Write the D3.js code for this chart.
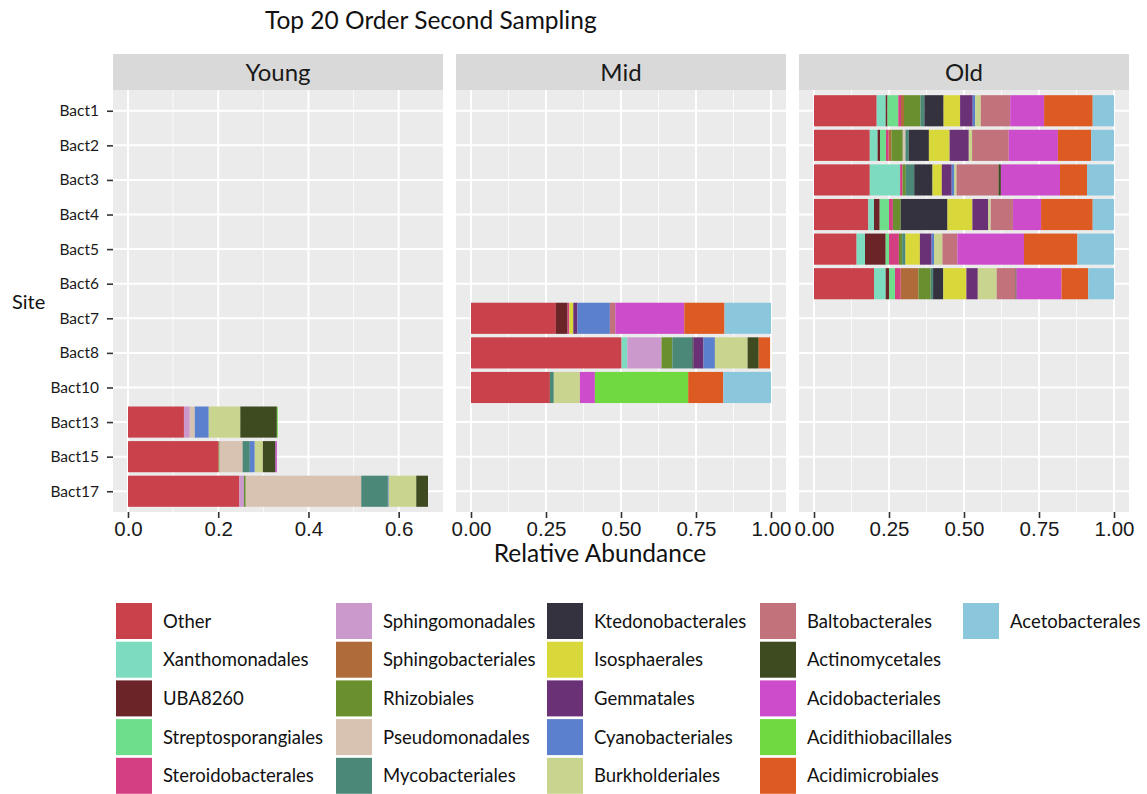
<!DOCTYPE html>
<html>
<head>
<meta charset="utf-8">
<script src="https://cdn.jsdelivr.net/npm/d3@7"></script>
<style>
  html, body { margin: 0; padding: 0; background: #ffffff; }
  svg { display: block; }
</style>
</head>
<body>
<svg id="chart" width="1147" height="794"></svg>
<script>
// ---- Data -----------------------------------------------------------------
const sites = ["Bact1", "Bact2", "Bact3", "Bact4", "Bact5", "Bact6",
               "Bact7", "Bact8", "Bact10", "Bact13", "Bact15", "Bact17"];

const ages = ["Young", "Mid", "Old"];
const youngSites = ["Bact13", "Bact15", "Bact17"];
const midSites = ["Bact7", "Bact8", "Bact10"];
const oldSites = ["Bact1", "Bact2", "Bact3", "Bact4", "Bact5", "Bact6"];

const orders = ["Other", "Xanthomonadales", "UBA8260", "Streptosporangiales",
  "Steroidobacterales", "Sphingomonadales", "Sphingobacteriales", "Rhizobiales",
  "Pseudomonadales", "Mycobacteriales", "Ktedonobacterales", "Isosphaerales",
  "Gemmatales", "Cyanobacteriales", "Burkholderiales", "Baltobacterales",
  "Actinomycetales", "Acidobacteriales", "Acidithiobacillales",
  "Acidimicrobiales", "Acetobacterales"];

const orderColors = ["#c9424b", "#7ddcc0", "#6b2427", "#6ede8a", "#d43f84",
  "#cc99cc", "#b06b3a", "#6a8f2e", "#d8c3b2", "#4b8878", "#33323e", "#d8d83a",
  "#6b3177", "#5b80cd", "#c9d58e", "#c1727a", "#3e4a20", "#cc4ccb", "#6fd93f",
  "#dd5a22", "#8ac7dc"];

// Relative abundance per site, in the same order as `orders`
const bact1  = [0.209, 0.030, 0.006, 0.036, 0.009, 0, 0.010, 0.055, 0, 0.013, 0.064, 0.055, 0.042, 0.008, 0.019, 0.098, 0, 0.113, 0, 0.162, 0.071];
const bact2  = [0.186, 0.026, 0.008, 0.020, 0.009, 0, 0.009, 0.038, 0.009, 0.011, 0.067, 0.069, 0.064, 0, 0.011, 0.122, 0, 0.164, 0, 0.111, 0.076];
const bact3  = [0.186, 0.101, 0, 0, 0.008, 0, 0, 0.011, 0, 0.028, 0.061, 0.031, 0.033, 0.009, 0.007, 0.140, 0.008, 0.197, 0, 0.090, 0.090];
const bact4  = [0.181, 0.019, 0.019, 0.031, 0.013, 0, 0, 0.026, 0, 0, 0.156, 0.083, 0.053, 0, 0.008, 0.074, 0, 0.094, 0, 0.172, 0.071];
const bact5  = [0.142, 0.028, 0.069, 0.011, 0.033, 0, 0, 0.011, 0, 0.011, 0, 0.048, 0.039, 0.008, 0.028, 0.050, 0, 0.222, 0, 0.178, 0.122];
const bact6  = [0.200, 0.039, 0.011, 0.020, 0.019, 0, 0.059, 0.041, 0, 0.008, 0.034, 0.077, 0.038, 0, 0.063, 0.063, 0.003, 0.150, 0, 0.089, 0.086];
const bact7  = [0.283, 0, 0.039, 0, 0.006, 0, 0, 0, 0, 0, 0, 0.013, 0.014, 0.108, 0, 0.018, 0, 0.230, 0, 0.134, 0.155];
const bact8  = [0.502, 0.019, 0, 0, 0, 0.114, 0, 0.036, 0, 0.067, 0.004, 0, 0.033, 0.038, 0.109, 0, 0.037, 0, 0, 0.038, 0];
const bact10 = [0.263, 0, 0, 0, 0, 0, 0, 0, 0, 0.013, 0, 0, 0, 0, 0.087, 0, 0, 0.050, 0.311, 0.117, 0.159];
const bact13 = [0.124, 0, 0, 0, 0, 0.013, 0, 0, 0.011, 0, 0, 0, 0, 0.031, 0.070, 0, 0.081, 0, 0.002, 0, 0];
const bact15 = [0.201, 0, 0, 0, 0, 0, 0, 0.002, 0.051, 0.016, 0, 0, 0, 0.011, 0.018, 0, 0.028, 0.003, 0, 0, 0];
const bact17 = [0.247, 0, 0, 0, 0, 0.010, 0, 0.004, 0.256, 0.059, 0, 0, 0, 0.002, 0.061, 0, 0.026, 0, 0, 0, 0];

const siteValues = [bact1, bact2, bact3, bact4, bact5, bact6,
                    bact7, bact8, bact10, bact13, bact15, bact17];

const youngTicks = [0, 0.2, 0.4, 0.6];
const fullTicks = [0, 0.25, 0.5, 0.75, 1];

// ---- Layout ---------------------------------------------------------------
const svg = d3.select("#chart");
const panelTop = 90, panelBottom = 512, stripTop = 54;
const panelLefts = [113, 456, 799];
const panelWidth = 330;
const panelSites = [youngSites, midSites, oldSites];
const panelTicks = [youngTicks, fullTicks, fullTicks];
const panelFormats = [d3.format(".1f"), d3.format(".2f"), d3.format(".2f")];
const sansFont = "Lato, 'Open Sans', sans-serif";

const rows = sites.map((s, i) => {
  const r = { site: s };
  orders.forEach((o, j) => { r[o] = siteValues[i][j]; });
  return r;
});
const series = d3.stack().keys(orders)(rows);
const colorScale = d3.scaleOrdinal(orders, orderColors);

const y = d3.scalePoint(sites, [panelTop, panelBottom]).padding(0.6);
const barH = y.step() * 0.9;

// title
svg.append("text")
  .attr("x", 265).attr("y", 29)
  .attr("font-family", sansFont)
  .attr("font-size", 24.5)
  .attr("fill", "#111")
  .text("Top 20 Order Second Sampling");

ages.forEach((age, p) => {
  const left = panelLefts[p];
  const inPanel = new Set(panelSites[p]);
  const maxTotal = d3.max(rows.filter(r => inPanel.has(r.site)),
                          r => d3.sum(orders, o => r[o]));
  const x = d3.scaleLinear()
    .domain([-0.05 * maxTotal, 1.05 * maxTotal])
    .range([left, left + panelWidth]);

  const g = svg.append("g");

  // strip
  g.append("rect")
    .attr("x", left).attr("y", stripTop)
    .attr("width", panelWidth).attr("height", panelTop - stripTop)
    .attr("fill", "#d9d9d9");
  g.append("text")
    .attr("x", left + panelWidth / 2).attr("y", 80.5)
    .attr("text-anchor", "middle")
    .attr("font-family", sansFont)
    .attr("font-size", 24)
    .attr("fill", "#1a1a1a")
    .text(age);

  // panel background
  g.append("rect")
    .attr("x", left).attr("y", panelTop)
    .attr("width", panelWidth).attr("height", panelBottom - panelTop)
    .attr("fill", "#ebebeb");

  // grid lines
  const ticks = panelTicks[p];
  const minor = d3.pairs(ticks).map(([a, b]) => (a + b) / 2);
  g.selectAll(".minor").data(minor).join("line")
    .attr("x1", d => x(d)).attr("x2", d => x(d))
    .attr("y1", panelTop).attr("y2", panelBottom)
    .attr("stroke", "#fafafa").attr("stroke-width", 1);
  g.selectAll(".major").data(ticks).join("line")
    .attr("x1", d => x(d)).attr("x2", d => x(d))
    .attr("y1", panelTop).attr("y2", panelBottom)
    .attr("stroke", "#ffffff").attr("stroke-width", 2);
  g.selectAll(".hgrid").data(sites).join("line")
    .attr("x1", left).attr("x2", left + panelWidth)
    .attr("y1", d => y(d)).attr("y2", d => y(d))
    .attr("stroke", "#ffffff").attr("stroke-width", 2);

  // stacked bars
  series.forEach(s => {
    g.selectAll(null)
      .data(s.filter(d => inPanel.has(d.data.site) && d[1] - d[0] > 0))
      .join("rect")
      .attr("x", d => x(d[0]))
      .attr("width", d => x(d[1]) - x(d[0]))
      .attr("y", d => y(d.data.site) - barH / 2)
      .attr("height", barH)
      .attr("fill", colorScale(s.key));
  });

  // x axis
  const ax = g.append("g")
    .attr("transform", `translate(0,${panelBottom})`)
    .call(d3.axisBottom(x).tickValues(ticks).tickFormat(panelFormats[p])
      .tickSize(6).tickPadding(3));
  ax.select(".domain").remove();
  ax.selectAll(".tick line").attr("stroke", "#333").attr("stroke-width", 1.6);
  ax.selectAll(".tick text")
    .attr("font-family", "'Liberation Sans', Arial, sans-serif")
    .attr("font-size", 20.5)
    .attr("fill", "#1a1a1a");
});

// y axis on the first panel
const ay = svg.append("g")
  .attr("transform", `translate(${panelLefts[0]},0)`)
  .call(d3.axisLeft(y).tickSize(6).tickPadding(8));
ay.select(".domain").remove();
ay.selectAll(".tick line").attr("stroke", "#333").attr("stroke-width", 1.6);
ay.selectAll(".tick text")
  .attr("font-family", sansFont)
  .attr("font-size", 15.5)
  .attr("fill", "#1a1a1a");

// axis titles
svg.append("text")
  .attr("x", 12).attr("y", 309)
  .attr("font-family", sansFont)
  .attr("font-size", 20)
  .attr("fill", "#111")
  .text("Site");
svg.append("text")
  .attr("x", 600).attr("y", 562)
  .attr("text-anchor", "middle")
  .attr("font-family", sansFont)
  .attr("font-size", 24.5)
  .attr("fill", "#111")
  .text("Relative Abundance");

// legend: five rows, filled column by column
const legendCols = [116, 336, 547, 760, 963];
const legendTop = 603, legendStep = 38.7, keySize = 36;
const leg = svg.append("g");
orders.forEach((o, i) => {
  const col = Math.floor(i / 5), row = i % 5;
  const kx = legendCols[col], ky = legendTop + row * legendStep;
  leg.append("rect")
    .attr("x", kx).attr("y", ky)
    .attr("width", keySize).attr("height", keySize)
    .attr("fill", colorScale(o));
  leg.append("text")
    .attr("x", kx + 47).attr("y", ky + keySize / 2 + 6.5)
    .attr("font-family", sansFont)
    .attr("font-size", 18.5)
    .attr("fill", "#111")
    .text(o);
});
</script>
</body>
</html>
